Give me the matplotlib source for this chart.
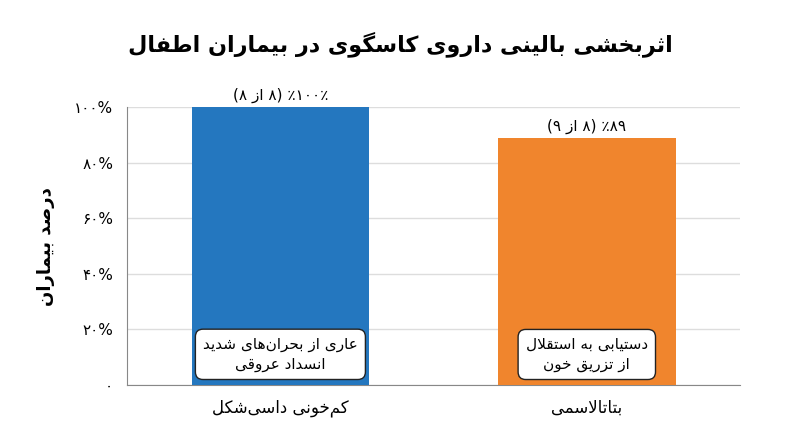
import matplotlib
matplotlib.use('Agg')
from matplotlib import pyplot as plt

# minimal Persian shaping: (isolated, final, initial, medial)
FORMS = {
    'ا': (0xFE8D, 0xFE8E, None, None), 'ب': (0xFE8F, 0xFE90, 0xFE91, 0xFE92),
    'ت': (0xFE95, 0xFE96, 0xFE97, 0xFE98), 'ث': (0xFE99, 0xFE9A, 0xFE9B, 0xFE9C),
    'ج': (0xFE9D, 0xFE9E, 0xFE9F, 0xFEA0), 'ح': (0xFEA1, 0xFEA2, 0xFEA3, 0xFEA4),
    'خ': (0xFEA5, 0xFEA6, 0xFEA7, 0xFEA8), 'د': (0xFEA9, 0xFEAA, None, None),
    'ذ': (0xFEAB, 0xFEAC, None, None), 'ر': (0xFEAD, 0xFEAE, None, None),
    'ز': (0xFEAF, 0xFEB0, None, None), 'س': (0xFEB1, 0xFEB2, 0xFEB3, 0xFEB4),
    'ش': (0xFEB5, 0xFEB6, 0xFEB7, 0xFEB8), 'ص': (0xFEB9, 0xFEBA, 0xFEBB, 0xFEBC),
    'ض': (0xFEBD, 0xFEBE, 0xFEBF, 0xFEC0), 'ط': (0xFEC1, 0xFEC2, 0xFEC3, 0xFEC4),
    'ظ': (0xFEC5, 0xFEC6, 0xFEC7, 0xFEC8), 'ع': (0xFEC9, 0xFECA, 0xFECB, 0xFECC),
    'غ': (0xFECD, 0xFECE, 0xFECF, 0xFED0), 'ف': (0xFED1, 0xFED2, 0xFED3, 0xFED4),
    'ق': (0xFED5, 0xFED6, 0xFED7, 0xFED8), 'ل': (0xFEDD, 0xFEDE, 0xFEDF, 0xFEE0),
    'م': (0xFEE1, 0xFEE2, 0xFEE3, 0xFEE4), 'ن': (0xFEE5, 0xFEE6, 0xFEE7, 0xFEE8),
    'ه': (0xFEE9, 0xFEEA, 0xFEEB, 0xFEEC), 'و': (0xFEED, 0xFEEE, None, None),
    'ی': (0xFBFC, 0xFBFD, 0xFBFE, 0xFBFF), 'ک': (0xFB8E, 0xFB8F, 0xFB90, 0xFB91),
    'گ': (0xFB92, 0xFB93, 0xFB94, 0xFB95),
}
DIGITS = '۰۱۲۳۴۵۶۷۸۹'


def fa(s):
    # join lam+alef first
    chars = list(s)
    out = []
    i = 0
    n = len(chars)
    def dual(c):
        return c in FORMS and FORMS[c][2] is not None
    while i < n:
        c = chars[i]
        if c not in FORMS:
            if c != '\u200c':
                out.append(c)
            i += 1
            continue
        prev = chars[i - 1] if i > 0 else ''
        pj = dual(prev)
        if c == 'ل' and i + 1 < n and chars[i + 1] == 'ا':
            out.append(chr(0xFEFC if pj else 0xFEFB))
            i += 2
            continue
        nxt = chars[i + 1] if i + 1 < n else ''
        nj = dual(c) and nxt in FORMS
        f = FORMS[c]
        if pj and nj:
            out.append(chr(f[3]))
        elif pj:
            out.append(chr(f[1]))
        elif nj:
            out.append(chr(f[2]))
        else:
            out.append(chr(f[0]))
        i += 1
    vis = ''.join(reversed(out))
    # put digit runs back in order, mirror parentheses
    res, run = '', ''
    for c in vis:
        if c in DIGITS:
            run += c
        else:
            res += run[::-1]
            run = ''
            res += {'(': ')', ')': '('}.get(c, c)
    res += run[::-1]
    return res


# data
categories = ['کم‌خونی داسی‌شکل', 'بتاتالاسمی']
values = [100, 89]
value_labels = ['٪۱۰۰٪ (۸ از ۸)', '۸۹٪ (۸ از ۹)']
notes = [['عاری از بحران‌های شدید', 'انسداد عروقی'],
         ['دستیابی به استقلال', 'از تزریق خون']]
yticks = [0, 20, 40, 60, 80, 100]
ytick_labels = ['۰', '۲۰%', '۴۰%', '۶۰%', '۸۰%', '۱۰۰%']
colors = ['#2477BF', '#F0852D']

plt.rcParams['font.family'] = ['DejaVu Sans']

fig = plt.figure(figsize=(8, 4.47), dpi=100)
ax = fig.add_axes([0.159, 0.139, 0.766, 0.621])

x = list(range(len(categories)))
ax.bar(x, values, width=0.58, color=colors, zorder=3)

for xi, v, lab, note in zip(x, values, value_labels, notes):
    ax.text(xi, v + 1.5, fa(lab), ha='center', va='bottom', fontsize=11)
    ax.text(xi, 11, '\n'.join(fa(t) for t in note), ha='center', va='center',
            fontsize=11, linespacing=1.4, zorder=4,
            bbox=dict(boxstyle='round,pad=0.5', fc='white', ec='#222222', lw=1))

ax.set_xlim(-0.5, 1.5)
ax.set_ylim(0, 100)
ax.set_xticks(x)
ax.set_xticklabels([fa(c) for c in categories], fontsize=12)
ax.set_yticks(yticks)
ax.set_yticklabels(ytick_labels, fontsize=11)
ax.tick_params(length=0, pad=10)
ax.yaxis.grid(True, color='#dddddd', lw=1, zorder=0)

for s in ['top', 'right']:
    ax.spines[s].set_visible(False)
for s in ['left', 'bottom']:
    ax.spines[s].set_color('#888888')

ax.set_ylabel(fa('درصد بیماران'), fontsize=13, fontweight='bold', labelpad=14)
fig.suptitle(fa('اثربخشی بالینی داروی کاسگوی در بیماران اطفال'),
             fontsize=16, fontweight='bold', y=0.93)

plt.savefig('out.png')
